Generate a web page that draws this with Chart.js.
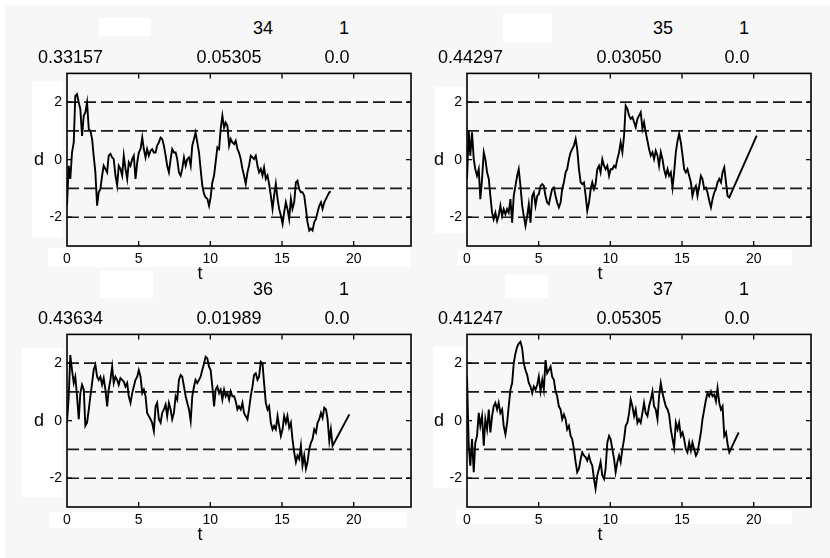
<!DOCTYPE html>
<html lang="ja">
<head>
    <meta charset="UTF-8">
    <title>d - t</title>
    <style>
        body { margin: 0; background: #fff; }
        #page { position: relative; width: 830px; height: 558px; overflow: hidden; }
        .bg { position: absolute; left: 5px; top: 5px; right: 0; bottom: 0; background: #f7f7f7; }
        .box { position: absolute; background: #fff; }
        .txt { position: absolute; font: 18px "Liberation Sans", Arial, sans-serif; color: #000;
               line-height: 1; white-space: nowrap; transform: translate(-50%, -50%); }
        .txt.left { transform: translate(0, -50%); }
        canvas { position: absolute; }
    </style>
</head>
<body>
<div id="page">
    <div class="bg"></div>
</div>

<script src="https://cdn.jsdelivr.net/npm/chart.js"></script>
<script>
    // eje t (muestreo)
    const tGrid = [
        0,0.12,0.23,0.35,0.47,0.58,0.70,0.82,0.93,1.05,
        1.17,1.28,1.40,1.52,1.63,1.75,1.86,1.98,2.10,2.21,
        2.33,2.45,2.56,2.68,2.80,2.91,3.03,3.15,3.26,3.38,
        3.50,3.61,3.73,3.85,3.96,4.08,4.20,4.31,4.43,4.55,
        4.66,4.78,4.90,5.01,5.13,5.25,5.36,5.48,5.59,5.71,
        5.83,5.94,6.06,6.18,6.29,6.41,6.53,6.64,6.76,6.88,
        6.99,7.11,7.23,7.34,7.46,7.58,7.69,7.81,7.93,8.04,
        8.16,8.28,8.39,8.51,8.63,8.74,8.86,8.97,9.09,9.21,
        9.32,9.44,9.56,9.67,9.79,9.91,10.02,10.14,10.26,10.37,
        10.49,10.61,10.72,10.84,10.96,11.07,11.19,11.31,11.42,11.54,
        11.66,11.77,11.89,12.00,12.12,12.24,12.35,12.47,12.59,12.70,
        12.82,12.94,13.05,13.17,13.29,13.40,13.52,13.64,13.75,13.87,
        13.99,14.10,14.22,14.34,14.45,14.57,14.69,14.80,14.92,15.04,
        15.15,15.27,15.38,15.50,15.62,15.73,15.85,15.97,16.08,16.20,
        16.32,16.43,16.55,16.67,16.78,16.90,17.02,17.13,17.25,17.37,
        17.48,17.60,17.72,17.83,17.95,18.07,18.18,18.30,18.41,18.53
    ];

    const d34 = [
        -1.60,-0.21,-0.67,0.25,0.60,2.22,2.28,1.99,1.76,0.83,
        1.53,1.64,1.99,1.06,1.01,0.72,0.14,-0.44,-1.60,-1.13,
        -1.02,-0.55,-0.21,-0.32,-0.44,0.14,0.20,0.08,0.02,-0.55,
        -0.90,-0.21,-0.32,-0.55,0.14,-0.32,-0.67,-0.09,-0.21,0.02,
        0.14,-0.67,-0.09,0.25,0.37,0.77,0.37,0.08,0.37,0.14,
        0.31,0.37,0.25,0.25,0.49,0.60,0.77,0.72,0.49,0.14,
        -0.21,-0.44,0.02,0.37,0.25,0.25,0.02,-0.44,-0.55,-0.32,
        0.08,-0.21,0.02,0.08,-0.21,0.49,0.72,0.95,0.60,0.25,
        -0.32,-0.90,-1.19,-1.31,-1.36,-1.60,-1.31,-0.79,-0.55,-0.09,
        0.43,0.37,1.06,1.53,1.12,1.29,1.18,0.49,0.72,0.60,
        0.54,0.66,0.37,0.25,0.02,-0.32,-0.55,-0.84,-0.44,-0.21,
        0.14,0.08,0.02,0.14,-0.21,-0.44,-0.32,-0.55,-0.27,-0.67,
        -0.55,-0.84,-1.25,-1.71,-1.25,-0.84,-1.36,-1.71,-1.94,-2.23,
        -1.83,-1.48,-1.71,-2.06,-1.36,-1.71,-1.48,-0.79,-0.73,-1.02,
        -1.13,-1.13,-1.25,-1.71,-2.17,-2.46,-2.40,-2.46,-2.17,-2.06,
        -1.83,-1.60,-1.48,-1.71,-1.48,-1.36,-1.25,-1.13,-1.11
    ];
    const d35 = [
        -0.67,1.01,0.14,0.95,0.02,-0.33,-0.56,-0.33,-1.37,-0.67,
        0.26,0.02,-0.44,-0.67,-1.26,-1.84,-2.07,-1.84,-2.13,-1.95,
        -1.60,-1.95,-1.72,-1.90,-1.72,-1.84,-1.37,-2.19,-1.26,-0.91,
        -0.56,-0.33,-0.91,-1.60,-1.95,-2.30,-1.95,-1.55,-2.19,-1.26,
        -1.14,-1.60,-1.26,-1.20,-0.91,-0.85,-0.91,-1.26,-1.49,-1.55,
        -1.26,-1.02,-0.97,-1.26,-1.49,-1.66,-1.49,-1.02,-0.79,-0.44,
        -0.33,0.02,0.26,0.37,0.49,0.72,0.37,-0.33,-0.79,-0.85,
        -0.79,-1.26,-1.78,-1.49,-1.02,-0.79,-1.02,-0.85,-0.33,-0.21,
        -0.44,0.02,-0.21,-0.33,-0.21,-0.56,-0.33,-0.33,-0.21,-0.27,
        0.02,0.26,0.60,0.26,0.84,1.88,1.77,1.53,1.42,1.48,
        1.30,1.13,1.42,1.53,1.65,1.07,1.30,0.95,0.66,0.37,
        0.14,0.26,0.02,0.31,0.14,-0.21,0.26,0.02,-0.33,-0.56,
        -0.33,-0.56,-0.44,-0.97,-0.44,0.26,0.66,0.90,0.60,0.14,
        -0.33,-0.44,-0.33,-0.56,-0.79,-1.26,-1.02,-0.91,-1.26,-0.91,
        -0.56,-0.67,-1.02,-0.97,-1.14,-1.43,-1.66,-1.37,-1.14,-1.02,
        -0.79,-0.67,-0.79,-0.44,-0.27,-0.79,-1.26,-1.31
    ];
    const d36 = [
        -0.07,0.85,2.28,1.76,1.31,1.53,0.85,0.05,0.96,1.25,
        1.08,-0.18,-0.07,0.39,0.85,1.31,1.76,1.94,1.53,1.42,
        1.53,1.25,1.48,1.08,0.50,1.08,1.42,1.88,1.31,1.53,
        1.42,1.25,1.48,1.42,1.36,1.19,1.31,0.85,0.62,0.96,
        1.19,1.42,1.53,1.76,1.53,0.96,1.08,0.85,0.27,0.16,
        0.05,-0.07,-0.36,0.50,0.62,0.05,-0.07,0.27,0.39,0.56,
        0.16,0.62,0.39,0.05,0.27,0.85,0.73,1.42,1.59,1.53,
        1.19,0.85,0.62,0.39,-0.01,0.85,1.19,1.42,1.31,1.42,
        1.53,1.76,1.99,2.22,2.16,1.88,1.76,1.19,0.50,1.08,
        1.19,0.96,1.08,0.73,1.08,0.85,0.96,0.73,1.02,0.85,
        0.85,0.68,0.39,0.50,0.39,0.62,0.27,0.16,0.05,0.39,
        0.85,1.19,1.59,1.65,1.42,1.53,2.05,1.99,1.31,0.62,
        0.39,0.50,-0.07,-0.30,-0.18,-0.30,0.16,-0.18,-0.53,-0.30,
        0.16,-0.07,0.16,-0.24,-0.07,-0.64,-1.10,-1.44,-1.21,-1.33,
        -0.87,-1.56,-1.21,-1.67,-1.44,-0.99,-0.76,-0.64,-0.30,-0.41,
        -0.07,0.05,0.27,0.10,0.45,0.39,0.05,-0.70,-0.30,-0.87
    ];
    const d37 = [
        1.53,-0.87,-1.56,-0.64,-1.79,-0.76,-0.53,0.27,-0.18,0.16,
        -0.87,0.05,-0.30,0.39,-0.41,0.16,0.50,0.62,0.39,0.62,
        0.27,0.39,-0.18,-0.47,-0.07,0.50,1.08,1.31,1.99,2.34,
        2.57,2.68,2.74,2.51,1.99,1.76,1.59,1.31,1.19,0.96,
        1.19,1.08,1.25,1.53,1.02,1.42,1.08,2.11,1.65,1.76,
        1.88,1.53,1.42,1.02,0.85,0.50,0.39,0.05,0.22,0.05,
        -0.30,-0.18,-0.53,-0.64,-0.99,-1.44,-1.79,-1.67,-1.33,-1.10,
        -1.21,-1.27,-1.39,-1.21,-1.44,-1.56,-2.02,-2.36,-1.90,-1.67,
        -1.44,-1.90,-2.02,-1.67,-0.76,-0.53,-0.64,-0.99,-1.33,-1.79,
        -1.44,-1.21,-1.44,-0.99,-0.64,-0.18,-0.07,0.27,0.73,0.50,
        0.16,0.39,-0.07,0.05,-0.07,0.27,0.62,0.27,0.16,0.50,
        0.73,1.02,0.50,0.39,0.05,0.85,1.31,0.96,0.73,0.50,
        0.39,0.22,-0.30,-0.64,-0.93,-0.07,-0.30,-0.07,-0.53,-0.41,
        -0.64,-0.99,-1.10,-0.76,-1.04,-0.76,-0.99,-1.21,-1.10,-0.76,
        -0.41,0.05,0.39,0.73,0.96,0.85,1.02,0.85,0.91,0.68,
        1.13,0.62,0.39,0.50,-0.53,-0.41,-0.81,-1.10
    ];

    // último tramo recto de cada curva [t, d]
    const tail34 = null;
    const tail35 = [20.21, 0.84];
    const tail36 = [19.70, 0.22];
    const tail37 = [18.95, -0.41];

    // textos de cabecera
    const runIds  = ['34', '35', '36', '37'];
    const flags   = ['1', '1', '1', '1'];
    const valA    = ['0.33157', '0.44297', '0.43634', '0.41247'];
    const valB    = ['0.05305', '0.03050', '0.01989', '0.05305'];
    const valC    = ['0.0', '0.0', '0.0', '0.0'];

    const xTicks = [0, 5, 10, 15, 20];
    const yTicks = [-2, 0, 2];
    const refLevels = [2, 1, -1, -2];
    const tMax = 24;

    const page = document.getElementById('page');
    function addBox(x, y, w, h) {
        const b = document.createElement('div');
        b.className = 'box';
        b.style.cssText = `left:${x}px;top:${y}px;width:${w}px;height:${h}px`;
        page.appendChild(b);
    }
    function addText(txt, x, y, left) {
        const e = document.createElement('div');
        e.className = left ? 'txt left' : 'txt';
        e.textContent = txt;
        e.style.left = x + 'px';
        e.style.top = y + 'px';
        page.appendChild(e);
    }

    // cajas blancas (como en la captura)
    addBox(99, 18, 52, 18);   addBox(32, 81, 31, 156);  addBox(48, 248, 362, 19);  addBox(100, 270, 53, 28);
    addBox(503, 13, 49, 30);  addBox(435, 87, 30, 146); addBox(458, 250, 334, 15); addBox(505, 275, 43, 23);
    addBox(22, 348, 41, 149); addBox(49, 512, 358, 16);
    addBox(433, 347, 32, 141); addBox(456, 510, 336, 14);

    const framePlugin = {
        id: 'frame',
        afterDraw(chart) {
            const { ctx, chartArea: a, scales: { x, y } } = chart;
            ctx.save();
            ctx.strokeStyle = '#000';
            ctx.lineWidth = 1.6;
            ctx.strokeRect(a.left, a.top, a.right - a.left, a.bottom - a.top);
            ctx.lineWidth = 1.3;
            ctx.beginPath();
            xTicks.forEach(v => {
                if (v <= 0) return;
                const px = x.getPixelForValue(v);
                ctx.moveTo(px, a.bottom); ctx.lineTo(px, a.bottom - 5);
                ctx.moveTo(px, a.top); ctx.lineTo(px, a.top + 5);
            });
            yTicks.forEach(v => {
                const py = y.getPixelForValue(v);
                ctx.moveTo(a.left, py); ctx.lineTo(a.left + 5, py);
                ctx.moveTo(a.right, py); ctx.lineTo(a.right - 5, py);
            });
            ctx.stroke();
            ctx.restore();
        }
    };

    const tickFont = { family: '"Liberation Sans", Arial, sans-serif', size: 14 };

    function makePanel(idx, ox, oy, vals, tail) {
        const cv = document.createElement('canvas');
        cv.width = 415; cv.height = 215;
        cv.style.left = ox + 'px';
        cv.style.top = (oy + 60) + 'px';
        page.appendChild(cv);

        const pts = vals.map((v, i) => ({ x: tGrid[i], y: v }));
        if (tail) pts.push({ x: tail[0], y: tail[1] });

        const refSets = refLevels.map(lv => ({
            data: [{ x: 0, y: lv }, { x: tMax, y: lv }],
            borderColor: '#1a1a1a', borderWidth: 1.7, borderDash: [12, 5],
            pointRadius: 0
        }));

        new Chart(cv.getContext('2d'), {
            type: 'line',
            data: {
                datasets: [{
                    data: pts, borderColor: '#000', borderWidth: 1.9,
                    pointRadius: 0, tension: 0
                }, ...refSets]
            },
            options: {
                responsive: false,
                animation: false,
                events: [],
                layout: { padding: { top: 11, right: 4, left: 0, bottom: 0 } },
                plugins: { legend: { display: false }, tooltip: { enabled: false } },
                scales: {
                    x: {
                        type: 'linear', min: 0, max: tMax,
                        afterBuildTicks: s => { s.ticks = xTicks.map(v => ({ value: v })); },
                        afterFit: s => { s.height = 29; },
                        grid: { display: false, drawTicks: false },
                        border: { display: false },
                        ticks: { font: tickFont, color: '#000', padding: 5, autoSkip: false, maxRotation: 0 }
                    },
                    y: {
                        min: -3, max: 3,
                        afterBuildTicks: s => { s.ticks = yTicks.map(v => ({ value: v })); },
                        afterFit: s => { s.width = 67; },
                        grid: { display: false, drawTicks: false },
                        border: { display: false },
                        ticks: { font: tickFont, color: '#000', padding: 5, autoSkip: false }
                    }
                }
            },
            plugins: [framePlugin]
        });

        // textos del panel
        addText(runIds[idx], ox + 263, oy + 28);
        addText(flags[idx], ox + 344, oy + 28);
        addText(valA[idx], ox + 38, oy + 57, true);
        addText(valB[idx], ox + 229, oy + 57);
        addText(valC[idx], ox + 337, oy + 57);
        addText('d', ox + 39, oy + 159);
        addText('t', ox + 200, oy + 273);
    }

    makePanel(0, 0, 0, d34, tail34);
    makePanel(1, 400, 0, d35, tail35);
    makePanel(2, 0, 261, d36, tail36);
    makePanel(3, 400, 261, d37, tail37);
</script>
</body>
</html>
